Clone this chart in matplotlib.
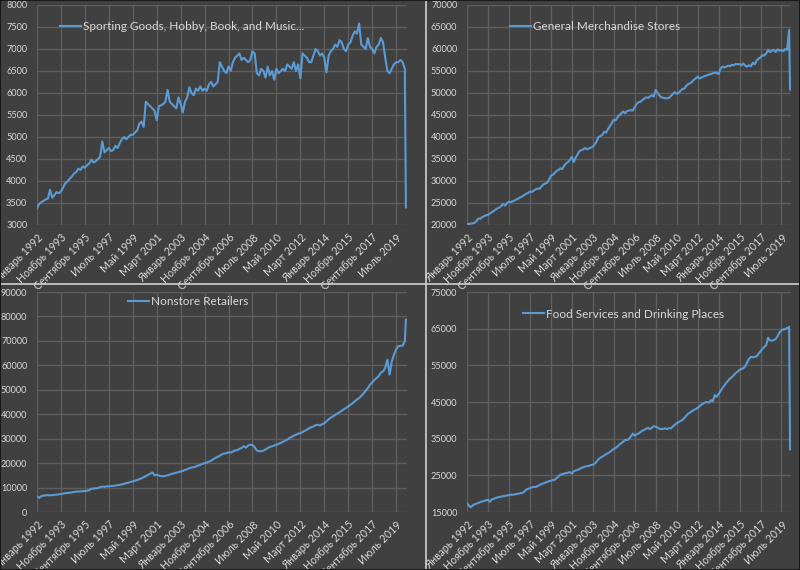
import numpy as np
import matplotlib.pyplot as plt
from matplotlib.patches import Rectangle
from matplotlib.lines import Line2D

plt.rcParams['font.family'] = ['Lato', 'DejaVu Sans']

# month index from Jan 1992 (every 2nd month, then Mar/Apr 2020)
months = list(range(0, 337, 2)) + [338, 339]

month_names = ["Январь", "Февраль", "Март", "Апрель", "Май", "Июнь",
               "Июль", "Август", "Сентябрь", "Октябрь", "Ноябрь", "Декабрь"]
tick_pos = list(range(0, 340, 22))
tick_labels = [f"{month_names[m % 12]} {1992 + m // 12}" for m in tick_pos]

sporting = [
    3380, 3480, 3520, 3550, 3580, 3600,
    3800, 3620, 3680, 3750, 3720, 3760,
    3850, 3950, 3990, 4050, 4100, 4170,
    4200, 4280, 4250, 4330, 4300, 4360,
    4400, 4480, 4420, 4450, 4500, 4550,
    4900, 4650, 4700, 4750, 4680, 4700,
    4800, 4750, 4860, 4950, 5000, 4950,
    5000, 5050, 5050, 5100, 5150, 5300,
    5350, 5230, 5800, 5750, 5700, 5650,
    5600, 5380, 5700, 5720, 5750, 5800,
    6070, 5800, 5750, 5700, 5650, 5900,
    5750, 5560, 5800, 5900, 6130, 6000,
    5950, 6100, 6050, 6150, 6050, 6100,
    6050, 6200, 6250, 6150, 6200, 6250,
    6700, 6600, 6500, 6450, 6600, 6500,
    6700, 6800, 6850, 6900, 6750, 6800,
    6750, 6700, 6750, 6950, 6900, 6450,
    6400, 6550, 6500, 6350, 6600, 6400,
    6500, 6300, 6550, 6450, 6500, 6550,
    6500, 6650, 6600, 6550, 6700, 6500,
    6650, 6330, 6900, 6850, 6800, 6700,
    6700, 6850, 7000, 6950, 6850, 6900,
    6800, 6470, 6850, 6950, 7000, 7100,
    7050, 7200, 7150, 7000, 6950, 7100,
    7150, 7300, 7400, 7350, 7580, 7100,
    7050, 7000, 7250, 7050, 7000, 6900,
    7050, 7100, 7250, 7150, 6800, 6500,
    6450, 6550, 6650, 6700, 6700, 6750,
    6700, 6550, 3400,
]

general = [
    20200, 20250, 20300, 20400, 20500, 20900,
    21500, 21400, 21800, 22000, 22200, 22300,
    22600, 22900, 23200, 23500, 23800, 24000,
    24300, 24800, 24400, 25000, 25300, 25200,
    25400, 25600, 25800, 26050, 26300, 26500,
    26800, 27100, 27300, 27600, 27500, 27800,
    28100, 28300, 28200, 28700, 29200, 29400,
    29600, 30300, 31200, 31400, 31800, 32300,
    32500, 32900, 32700, 33500, 34000, 34300,
    34800, 35500, 34300, 35300, 36000, 36800,
    37000, 37200, 37500, 37200, 37400, 37600,
    37800, 38300, 39000, 40000, 40200, 40500,
    41200, 41000, 41800, 42500, 43200, 43900,
    43800, 44500, 45000, 45400, 45800, 45400,
    45900, 46000, 46100, 46000, 46800, 47500,
    47900, 48000, 48400, 48700, 49000, 48900,
    49200, 49500, 49200, 50700, 50000, 49400,
    49000, 48900, 48800, 48800, 48900, 49300,
    49800, 50200, 49800, 50000, 50500, 50900,
    51000, 51600, 52000, 52200, 52500, 53000,
    53300, 53700, 53300, 53500, 53700, 53900,
    54000, 54200, 54300, 54500, 54600, 54600,
    54300, 55500, 56000, 55800, 56000, 56200,
    56100, 56400, 56300, 56600, 56500, 56600,
    56300, 56700, 56200, 56000, 56300, 56100,
    56900, 56500, 57400, 57800, 58100, 58600,
    58500, 59000, 59800, 59300, 59600, 59800,
    59300, 59900, 59600, 59800, 59500, 60000,
    59800, 64300, 50800,
]

nonstore = [
    6400, 5800, 6500, 6700, 6800, 6900,
    6800, 6900, 7000, 7100, 7200, 7400,
    7500, 7700, 7800, 7900, 8000, 8200,
    8300, 8400, 8400, 8500, 8600, 8700,
    8900, 9500, 9600, 9700, 9800, 10200,
    10400, 10300, 10500, 10500, 10600, 10700,
    10800, 11000, 11100, 11300, 11500, 11800,
    12000, 12300, 12500, 12800, 13100, 13400,
    13800, 14200, 14700, 15200, 15600, 16200,
    15000, 15200, 14900, 14700, 14600, 14800,
    15000, 15300, 15600, 15800, 16100, 16300,
    16600, 16800, 17200, 17500, 17900, 18200,
    18300, 18600, 19000, 19300, 19700, 20000,
    20200, 20600, 21000, 21600, 22100, 22600,
    23000, 23600, 23900, 24100, 24400, 24300,
    24700, 25200, 25300, 25800, 26200, 26900,
    26300, 27200, 27500, 27400, 26500, 25100,
    24900, 24800, 25100, 25600, 26200, 26600,
    26900, 27200, 27500, 27900, 28300, 28700,
    29200, 29600, 30300, 30700, 31200, 31600,
    32000, 32300, 32700, 33200, 33700, 34200,
    34700, 35000, 35500, 35700, 35400, 35900,
    36300, 37100, 37900, 38600, 39100, 39700,
    40300, 40800, 41400, 42000, 42600, 43200,
    43800, 44500, 45300, 46000, 46600, 47500,
    48500, 49600, 50700, 52100, 53000, 54000,
    54800, 55600, 57000, 57500, 59000, 62300,
    56200, 61500, 64400, 66500, 67800, 68000,
    68000, 70000, 78700,
]

food = [
    17400, 16700, 16300, 16800, 17100, 17300,
    17500, 17700, 17900, 18000, 18200, 18350,
    17800, 18400, 18600, 18800, 19000, 19100,
    19200, 19300, 19400, 19500, 19600, 19700,
    19700, 19800, 19900, 20000, 20100, 20200,
    20500, 21100, 21300, 21500, 21700, 21900,
    21800, 22100, 22300, 22600, 22800, 23000,
    23200, 23400, 23500, 23700, 23800, 24200,
    24700, 25200, 25300, 25500, 25600, 25700,
    25900, 25500, 26100, 26300, 26500, 26700,
    27000, 27200, 27400, 27500, 27600, 27800,
    27900, 28200, 28700, 29400, 29800, 30100,
    30400, 30800, 31000, 31400, 31800, 32200,
    32500, 32900, 33400, 33800, 34200, 34700,
    34600, 34900, 35600, 36400, 35800, 36200,
    36400, 36800, 37200, 37400, 37700, 38000,
    37600, 38000, 38400, 38300, 38000, 37700,
    37600, 37700, 37800, 37600, 37900, 37800,
    38300, 38800, 39200, 39500, 39800, 40100,
    40600, 41200, 41800, 42100, 42500, 42800,
    43100, 43400, 43800, 44300, 44600, 44900,
    45000, 44800, 45500, 45200, 46900, 46400,
    47200, 48000, 48800, 49500, 50200, 50800,
    51400, 51800, 52300, 52900, 53300, 53800,
    54000, 54200, 54800, 55800, 56800, 57300,
    57200, 57300, 57500, 58200, 58800, 59500,
    60000, 60500, 62500, 61800, 61700, 61900,
    62200, 63000, 64000, 64600, 64800, 64900,
    65200, 65500, 32100,
]

BG = '#404040'
GRID = '#5e5e5e'
TXT = '#d9d9d9'
LINE = '#5b9bd5'

W, H = 800, 570
fig = plt.figure(figsize=(W / 100, H / 100), dpi=100)
fig.patch.set_facecolor(BG)


def px_axes(x0, y0, x1, y1):
    # pixel box (top-left origin) -> figure axes
    return fig.add_axes([x0 / W, 1 - y1 / H, (x1 - x0) / W, (y1 - y0) / H])


panels = [
    (sporting, "Sporting Goods, Hobby, Book, and Music...", (37, 5, 407, 225),
     (3000, 8000, 500), (0.062, 0.90)),
    (general, "General Merchandise Stores", (467, 5, 791, 225),
     (20000, 70000, 5000), (0.133, 0.90)),
    (nonstore, "Nonstore Retailers", (37, 292, 407, 512),
     (0, 90000, 10000), (0.246, 0.955)),
    (food, "Food Services and Drinking Places", (467, 292, 791, 512),
     (15000, 75000, 10000), (0.173, 0.90)),
]

axes = []
for values, name, box, (ymin, ymax, step), leg_xy in panels:
    ax = px_axes(*box)
    axes.append(ax)
    ax.set_facecolor(BG)
    ax.plot(months, values, color=LINE, lw=1.5, label=name)
    ax.set_xlim(0, 340)
    ax.set_ylim(ymin, ymax)
    ax.set_yticks(np.arange(ymin, ymax + 1, step))
    ax.set_xticks(tick_pos)
    ax.set_xticklabels(tick_labels, rotation=45, ha='right', va='top',
                       rotation_mode='anchor', fontsize=7.7)
    ax.tick_params(axis='both', length=0, colors=TXT)
    ax.tick_params(axis='y', pad=7, labelsize=6.6)
    ax.tick_params(axis='x', pad=5)
    ax.grid(True, color=GRID, lw=1)
    ax.set_axisbelow(True)
    for s in ax.spines.values():
        s.set_visible(False)
    leg = ax.legend(loc='center left', bbox_to_anchor=leg_xy, frameon=False,
                    fontsize=8.5, handlelength=1.75, handletextpad=0.2,
                    borderpad=0, borderaxespad=0)
    for t in leg.get_texts():
        t.set_color(TXT)

# keep the upper tick labels above the lower panels
axes[0].set_zorder(2)
axes[1].set_zorder(2)

# panel separators and outer frame
fig.add_artist(Line2D([425.7 / W, 425.7 / W], [0, 1], color='#d0d0d0', lw=1.2, zorder=5))
fig.add_artist(Line2D([0, 1], [1 - 284 / H, 1 - 284 / H], color='#d0d0d0', lw=1.2, zorder=5))
fig.add_artist(Rectangle((0, 0), 1, 1, transform=fig.transFigure, fill=False,
                         edgecolor='#1a1a1a', lw=1.5, zorder=5))

fig.savefig("out.png", dpi=100, facecolor=BG)
